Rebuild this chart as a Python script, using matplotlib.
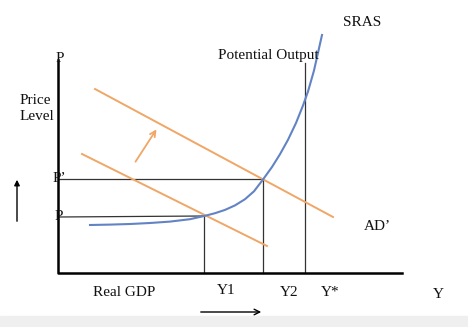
import matplotlib.pyplot as plt
from matplotlib.patches import Rectangle

# diagram is drawn in pixel space of the original picture (y grows downward)
W, H = 468, 327

axis_x = [58, 58, 402]
axis_y = [60, 273, 273]

sras_x = [90, 110, 130, 150, 170, 190, 205, 215, 225, 235, 245, 254, 263, 272, 280, 288, 296, 303, 308, 314, 322]
sras_y = [225, 224.6, 224, 223, 221.6, 219.2, 215.8, 213.2, 209.9, 205.4, 199.2, 191.3, 179.5, 167, 154.2, 139.8, 123, 105.5, 91.5, 70.5, 35]

ad_x = [82, 267]
ad_y = [154, 246]
ad2_x = [95, 333]
ad2_y = [89, 217]

p1_level = 216
p2_level = 179
y1_pos = 204
y2_pos = 263
ystar_pos = 305
potential_top = 63

shift_arrow = [(134, 164), (158, 127)]
price_arrow = [(17, 224), (17, 177)]
gdp_arrow = [(198, 312), (264, 312)]

labels = [
    ("P", 60, 58), ("P’", 59, 178), ("P", 59, 217),
    ("Price", 20, 100), ("Level", 20, 116),
    ("SRAS", 362, 22), ("Potential Output", 268, 55), ("AD’", 377, 226),
    ("Real GDP", 124, 293), ("Y1", 226, 291), ("Y2", 289, 292),
    ("Y*", 330, 293), ("Y", 438, 294),
]

orange = "#f0a666"
blue = "#6283c4"
guide = "#333333"

fig = plt.figure(figsize=(W / 100, H / 100), dpi=100)
ax = fig.add_axes([0, 0, 1, 1])
ax.set_xlim(0, W)
ax.set_ylim(H, 0)
ax.axis("off")

ax.add_patch(Rectangle((0, 316), W, H - 316, color="#efefef", zorder=0))

# guide lines
ax.plot([axis_x[0], y2_pos], [p2_level, p2_level], color=guide, lw=0.9)
ax.plot([axis_x[0], y1_pos], [p1_level + 1, p1_level], color=guide, lw=0.9)
ax.plot([y1_pos, y1_pos], [p1_level, axis_y[1]], color=guide, lw=0.9)
ax.plot([y2_pos, y2_pos], [p2_level, axis_y[1]], color=guide, lw=0.9)
ax.plot([ystar_pos, ystar_pos], [potential_top, axis_y[1]], color=guide, lw=0.9)

ax.plot(ad_x, ad_y, color=orange, lw=1.4)
ax.plot(ad2_x, ad2_y, color=orange, lw=1.4)
ax.plot(sras_x, sras_y, color=blue, lw=1.5, solid_joinstyle="round")

ax.plot(axis_x, axis_y, color="black", lw=1.8)

ax.annotate("", xy=shift_arrow[1], xytext=shift_arrow[0],
            arrowprops=dict(arrowstyle="->", color=orange, lw=1.3))
ax.annotate("", xy=price_arrow[1], xytext=price_arrow[0],
            arrowprops=dict(arrowstyle="-|>", color="black", lw=1.0, mutation_scale=8))
ax.annotate("", xy=gdp_arrow[1], xytext=gdp_arrow[0],
            arrowprops=dict(arrowstyle="->", color="black", lw=1.0))

for txt, x, y in labels:
    ha = "center" if txt in ("P", "P’") or x > 60 else "left"
    ax.text(x, y, txt, ha=ha, va="center", fontsize=11,
            family="Liberation Serif", color="#111111")

fig.savefig("out.png", dpi=100)
